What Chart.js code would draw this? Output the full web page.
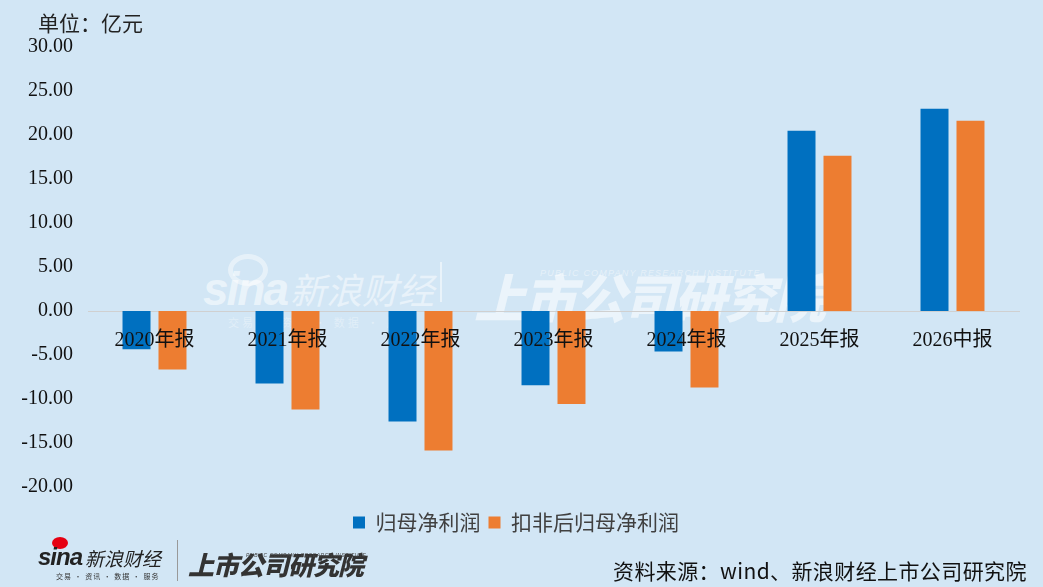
<!DOCTYPE html>
<html>
<head>
<meta charset="utf-8">
<script src="https://cdn.jsdelivr.net/npm/chart.js@4.4.1/dist/chart.umd.min.js"></script>
<style>
  html, body { margin: 0; padding: 0; background: #d2e6f5; }
  #wrap { position: relative; width: 1043px; height: 587px; overflow: hidden; background: #d2e6f5; }
  #c { position: absolute; left: 0; top: 0; }
  .t { position: absolute; white-space: nowrap; }
  .cjk { font-family: "Noto Sans CJK SC", sans-serif; }
</style>
</head>
<body>
<div id="wrap">
  <!-- central watermark -->
  <div class="t" style="left:228px; top:254px; width:30px; height:22px; border:5px solid rgba(255,255,255,0.45); border-radius:50%;"></div>
  <div class="t" style="left:203px; top:262px; color:rgba(255,255,255,0.55); font-family:'Liberation Sans',sans-serif; font-weight:bold; font-style:italic; font-size:46px; letter-spacing:-2px;">sina</div>
  <div class="t cjk" style="left:290px; top:262px; color:rgba(255,255,255,0.5); font-size:36px; font-style:italic;">新浪财经</div>
  <div class="t cjk" style="left:228px; top:314px; color:rgba(255,255,255,0.35); font-size:11px; letter-spacing:3px;">交易 · 资讯 · 数据 · 服务</div>
  <div class="t" style="left:440px; top:262px; width:2px; height:40px; background:rgba(255,255,255,0.5);"></div>
  <div class="t cjk" style="left:474px; top:258px; color:rgba(255,255,255,0.55); font-size:52px; font-weight:900; font-style:italic; letter-spacing:-2px;">上市公司研究院</div>
  <div class="t" style="left:540px; top:268px; color:rgba(255,255,255,0.45); font-family:'Liberation Sans',sans-serif; font-size:9px; font-style:italic; letter-spacing:1.2px;">PUBLIC COMPANY RESEARCH INSTITUTE</div>

  <canvas id="c" width="1043" height="587"></canvas>

  <!-- unit label -->
  <div class="t cjk" style="left:38px; top:7px; color:#222; font-size:21px;">单位：亿元</div>

  <!-- bottom-left logo -->
  <div class="t" style="left:52px; top:537px; width:16px; height:12px; border-radius:50%; background:#e60012;"></div>
  <div class="t" style="left:38px; top:543px; color:#222; font-family:'Liberation Sans',sans-serif; font-weight:bold; font-style:italic; font-size:24px; letter-spacing:-1px;">sina</div>
  <div class="t cjk" style="left:85px; top:544px; color:#222; font-size:19px; font-style:italic;">新浪财经</div>
  <div class="t cjk" style="left:56px; top:571px; color:#333; font-size:7px; letter-spacing:1px;">交易 · 资讯 · 数据 · 服务</div>
  <div class="t" style="left:177px; top:540px; width:1px; height:41px; background:#999;"></div>
  <div class="t cjk" style="left:188px; top:545px; color:#333; font-size:26px; font-weight:900; font-style:italic; letter-spacing:-1px;">上市公司研究院</div>
  <div class="t" style="left:246px; top:552px; color:#444; font-family:'Liberation Sans',sans-serif; font-size:5px; font-style:italic; letter-spacing:0.6px;">PUBLIC COMPANY RESEARCH INSTITUTE</div>

  <!-- source -->
  <div class="t cjk" style="left:613px; top:555px; color:#111; font-size:21px; letter-spacing:0.4px;">资料来源：wind、新浪财经上市公司研究院</div>
</div>
<script>
const categories = ["2020年报", "2021年报", "2022年报", "2023年报", "2024年报", "2025年报", "2026中报"];
const seriesNames = ["归母净利润", "扣非后归母净利润"];
const netProfit = [-4.36, -8.23, -12.55, -8.45, -4.59, 20.49, 22.99];
const deductedNetProfit = [-6.64, -11.18, -15.84, -10.57, -8.68, 17.65, 21.63];
const yTicks = [-20, -15, -10, -5, 0, 5, 10, 15, 20, 25, 30];

const serif = "'Liberation Serif', 'Noto Sans CJK SC', serif";

new Chart(document.getElementById('c'), {
  type: 'bar',
  data: {
    labels: categories,
    datasets: [
      { label: seriesNames[0], data: netProfit, backgroundColor: '#0070c0', borderWidth: 0,
        xAxisID: 'x', yAxisID: 'y', categoryPercentage: 0.541, barPercentage: 0.778 },
      { label: seriesNames[1], data: deductedNetProfit, backgroundColor: '#ed7d31', borderWidth: 0,
        xAxisID: 'x', yAxisID: 'y', categoryPercentage: 0.541, barPercentage: 0.778 }
    ]
  },
  options: {
    responsive: false,
    animation: false,
    devicePixelRatio: 1,
    layout: { padding: { left: 0, right: 11, top: 47, bottom: 44 } },
    plugins: {
      legend: {
        position: 'bottom',
        labels: {
          boxWidth: 12, boxHeight: 12, padding: 8,
          color: '#404040',
          font: { family: "'Noto Sans CJK SC', sans-serif", size: 21 }
        }
      },
      tooltip: { enabled: false }
    },
    scales: {
      x: {
        position: { y: 0 },
        grid: { display: false, drawTicks: false },
        border: { display: true, color: '#d0d0d0', width: 1 },
        ticks: { z: 1, color: '#111', padding: 18, font: { family: serif, size: 20 }, maxRotation: 0 }
      },
      y: {
        min: -20, max: 30,
        afterBuildTicks: (s) => { s.ticks = yTicks.map(v => ({ value: v })); },
        afterFit: (s) => { s.width = 88; },
        grid: { display: false, drawTicks: false },
        border: { display: false },
        ticks: {
          color: '#111', padding: 15,
          font: { family: serif, size: 20 },
          callback: (v) => Number(v).toFixed(2)
        }
      },
      spacer: {
        type: 'category',
        position: 'bottom',
        grid: { display: false, drawTicks: false },
        border: { display: false },
        ticks: { display: false },
        afterFit: (s) => { s.height = 17; }
      },
      rightSpacer: {
        type: 'category',
        position: 'right',
        grid: { display: false, drawTicks: false },
        border: { display: false },
        ticks: { display: false },
        afterFit: (s) => { s.width = 13; }
      }
    }
  }
});
</script>
</body>
</html>
